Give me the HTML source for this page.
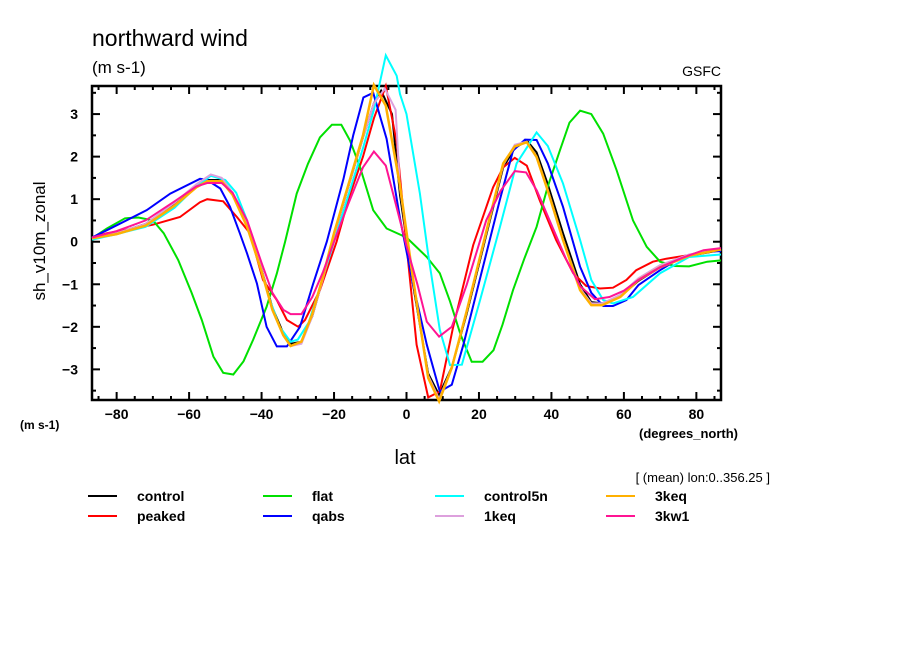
<!DOCTYPE html>
<html><head><meta charset="utf-8"><style>
body{margin:0;background:#fff;}
svg{display:block;font-family:"Liberation Sans",sans-serif;}
</style></head><body>
<svg id="chart" width="904" height="654" viewBox="0 0 904 654">
<text x="92" y="46" font-size="23">northward wind</text>
<text x="92" y="73" font-size="17">(m s-1)</text>
<text x="721" y="76" font-size="14" text-anchor="end">GSFC</text>
<text x="45" y="241" font-size="17" text-anchor="middle" transform="rotate(-90 45 241)">sh_v10m_zonal</text>
<text x="20" y="429" font-size="12" font-weight="bold">(m s-1)</text>
<text x="738" y="438" font-size="13" font-weight="bold" text-anchor="end">(degrees_north)</text>
<text x="405" y="464" font-size="20" text-anchor="middle">lat</text>
<text x="770" y="482" font-size="13" text-anchor="end">[ (mean) lon:0..356.25 ]</text>
<g id="axes"></g>
<g id="series"></g>
<g id="legend"></g>
</svg>
<script>
const xTicks=[-80,-60,-40,-20,0,20,40,60,80];
const yTicks=[-3,-2,-1,0,1,2,3];
const seriesNames=["control","peaked","flat","qabs","control5n","1keq","3keq","3kw1"];
const seriesColors=["#000000","#ff0000","#00e000","#0000ff","#00ffff","#dda0dd","#ffb000","#ff1493"];

const latControl=[-86.8,-80,-72,-64,-58,-55,-51,-48,-44,-40,-37,-34,-32,-29,-26,-23,-20,-16,-12,-9,-7,-4,-1.8,1.8,6,9,12.5,16.6,22,26.7,29.9,33.2,35.9,39,43.2,47.9,51,54,59,64,70,78,86.8];
const valControl=[0.08,0.2,0.42,0.9,1.3,1.45,1.45,1.12,0.35,-0.65,-1.55,-2.15,-2.4,-2.35,-1.75,-0.85,0.15,1.3,2.45,3.25,3.55,3.0,1.1,-1.0,-3.1,-3.6,-2.95,-1.7,0.15,1.75,2.2,2.38,2.1,1.35,0.2,-1.0,-1.42,-1.45,-1.28,-0.92,-0.6,-0.33,-0.2];
const latPeaked=[-86.8,-82.7,-76,-70,-62.5,-57,-55,-50.6,-46.8,-43.2,-39.6,-35.8,-33,-29.9,-28,-23.9,-19.3,-16,-12,-9,-5.7,-2.7,0,2.8,6,9.2,12.8,18.4,23.9,26.7,29.9,33.2,36.8,41.3,46,49.6,53.4,57,60.7,63.4,68,71.7,79,81.7,86.8];
const valPeaked=[0.1,0.2,0.3,0.4,0.58,0.93,1.0,0.95,0.58,0.2,-0.9,-1.37,-1.84,-2.0,-1.84,-1.14,0.0,1.0,2.0,2.9,3.66,2.34,-0.08,-2.42,-3.66,-3.52,-2.03,-0.08,1.28,1.75,1.97,1.79,0.97,0.04,-0.74,-1.04,-1.1,-1.08,-0.9,-0.67,-0.47,-0.4,-0.3,-0.22,-0.2];
const latFlat=[-86.8,-82.7,-77.7,-74,-70,-67,-63,-59.3,-56.5,-53.3,-50.6,-47.8,-45,-42.3,-38.6,-35.8,-33.5,-30.3,-27.2,-23.9,-20.6,-18,-15.6,-12.8,-9.2,-5.5,0,5.6,9.2,12,15,18,21,24,26.5,29.4,32.5,35.9,39,42.3,45,47.9,51,54.3,58,62.5,66.3,70,74,78,83,86.8];
const valFlat=[0.08,0.31,0.55,0.57,0.5,0.2,-0.43,-1.2,-1.84,-2.7,-3.08,-3.12,-2.81,-2.3,-1.53,-0.75,0.0,1.13,1.83,2.45,2.75,2.75,2.38,1.75,0.74,0.31,0.1,-0.36,-0.74,-1.4,-2.2,-2.82,-2.82,-2.55,-1.95,-1.14,-0.4,0.35,1.3,2.14,2.8,3.08,3.0,2.54,1.68,0.5,-0.12,-0.47,-0.57,-0.58,-0.47,-0.44];
const latQabs=[-86.8,-82.7,-71.7,-65.2,-57,-55,-51.4,-48.7,-46,-44,-41.3,-38.6,-35.8,-33,-29.4,-25.8,-22,-17.4,-14.7,-11.9,-9.2,-5.5,-1.8,1.8,5.6,9.2,12.5,15.7,20.3,25.8,29.4,32.7,35.9,39,43.2,47.9,51,54.3,57,60.7,64,70,75.4,81,86.8];
const valQabs=[0.1,0.27,0.74,1.13,1.48,1.45,1.25,0.82,0.2,-0.28,-0.98,-2.0,-2.46,-2.46,-2.0,-1.0,0.0,1.48,2.5,3.39,3.5,2.42,0.55,-1.0,-2.42,-3.52,-3.36,-2.42,-0.86,1.0,2.14,2.4,2.39,1.84,0.82,-0.59,-1.2,-1.51,-1.51,-1.37,-1.02,-0.67,-0.39,-0.24,-0.22];
const latControl5n=[-86.8,-80,-72,-64,-58,-54,-50,-47,-44,-41,-38,-35,-32,-30,-27,-24,-20,-16,-12,-9,-5.7,-2.7,-1.8,0,3.7,6,9.2,12,15.3,20.3,25.8,30.4,35.9,39,43.2,47.9,51,54.3,57,62.5,70,78,86.8];
const valControl5n=[0.05,0.18,0.35,0.8,1.3,1.55,1.45,1.15,0.5,-0.4,-1.3,-2.0,-2.35,-2.3,-1.9,-1.1,0.0,1.1,2.2,3.1,4.38,3.9,3.47,3.0,1.13,-0.3,-2.07,-2.9,-2.89,-1.37,0.35,1.84,2.57,2.25,1.37,0.04,-0.9,-1.37,-1.45,-1.3,-0.74,-0.36,-0.3];
const lat1keq=[-86.8,-80,-72,-64,-58,-54,-51,-48,-44,-40,-37,-34,-32,-29,-26,-23,-20,-16,-12,-9,-6,-3,-1.8,1.8,6,9,12.5,16.6,22,26.7,29.9,33.2,35.9,39,43.2,47.9,51,54,59,64,70,78,86.8];
const val1keq=[0.08,0.2,0.42,0.92,1.35,1.58,1.5,1.15,0.4,-0.65,-1.6,-2.2,-2.45,-2.4,-1.75,-0.85,0.15,1.3,2.45,3.25,3.6,3.1,1.25,-0.9,-3.15,-3.7,-2.95,-1.65,0.2,1.8,2.28,2.35,2.0,1.22,0.06,-1.1,-1.45,-1.45,-1.25,-0.86,-0.55,-0.3,-0.18];
const lat3keq=[-86.8,-80,-72,-64,-58,-55,-51,-48,-44,-40,-37,-34,-32,-29,-26,-23,-20,-16,-12,-9,-5.7,-1.8,1.8,6,9,12.5,16.6,22,26.7,29.9,33.2,35.9,39,43.2,47.9,51,54,59,64,70,78,86.8];
const val3keq=[0.08,0.18,0.38,0.85,1.28,1.42,1.42,1.1,0.35,-0.7,-1.6,-2.2,-2.45,-2.35,-1.7,-0.8,0.2,1.35,2.5,3.68,3.2,1.32,-0.86,-3.2,-3.75,-2.96,-1.64,0.23,1.84,2.24,2.34,1.99,1.2,0.04,-1.14,-1.49,-1.49,-1.3,-0.9,-0.6,-0.33,-0.18];
const lat3kw1=[-86.8,-80,-72,-64,-58,-55,-51,-48,-44,-40,-37,-34,-32,-29,-26,-23,-20,-16,-12,-9,-5.7,-3,0,3,5.6,9,12.5,16.6,22,26,29.9,33,36,40,44,48,52,56,60,64,70,76,82,86.8];
const val3kw1=[0.1,0.25,0.5,0.95,1.3,1.38,1.38,1.15,0.5,-0.5,-1.2,-1.6,-1.7,-1.7,-1.3,-0.7,0.0,0.9,1.75,2.12,1.79,0.9,-0.1,-1.0,-1.88,-2.23,-2.0,-1.02,0.5,1.2,1.66,1.63,1.2,0.4,-0.4,-1.05,-1.35,-1.3,-1.15,-0.9,-0.6,-0.38,-0.2,-0.15];

const seriesLats=[latControl,latPeaked,latFlat,latQabs,latControl5n,lat1keq,lat3keq,lat3kw1];
const seriesVals=[valControl,valPeaked,valFlat,valQabs,valControl5n,val1keq,val3keq,val3kw1];

const X0=92,X1=721,Y0=86,Y1=400;
const xMin=-86.8,xMax=86.8,yMin=-3.72,yMax=3.66;
function xs(v){return X0+(v-xMin)/(xMax-xMin)*(X1-X0);}
function ys(v){return Y1-(v-yMin)/(yMax-yMin)*(Y1-Y0);}
const NS="http://www.w3.org/2000/svg";
function mk(tag,attrs,parent){const e=document.createElementNS(NS,tag);for(const k in attrs)e.setAttribute(k,attrs[k]);parent.appendChild(e);return e;}

const axes=document.getElementById('axes');
const frame=mk('rect',{x:X0,y:Y0,width:X1-X0,height:Y1-Y0,fill:'none',stroke:'#000','stroke-width':2.5},axes);


for(let d=-85;d<=85;d+=5){
  const x=xs(d);const L=(d%20===0)?8:4;
  const t1=mk('line',{x1:x,y1:Y1,x2:x,y2:Y1-L,stroke:'#000','stroke-width':2},axes);
  
  
  const t2=mk('line',{x1:x,y1:Y0,x2:x,y2:Y0+L,stroke:'#000','stroke-width':2},axes);
  
  
}
xTicks.forEach(v=>{
  const t=mk('text',{x:xs(v),y:419,'font-size':14,'font-weight':'bold','text-anchor':'middle'},axes);
  t.textContent=(v<0?'\u2212'+(-v):String(v));
  
  
});
for(let k=-7;k<=7;k++){
  const v=k/2;if(v<yMin||v>yMax)continue;
  const y=ys(v);const L=(k%2===0)?8:4;
  const t1=mk('line',{x1:X0,y1:y,x2:X0+L,y2:y,stroke:'#000','stroke-width':2},axes);
  
  
  const t2=mk('line',{x1:X1,y1:y,x2:X1-L,y2:y,stroke:'#000','stroke-width':2},axes);
  
  
}
yTicks.forEach(v=>{
  const t=mk('text',{x:78,y:ys(v)+5,'font-size':14,'font-weight':'bold','text-anchor':'end'},axes);
  t.textContent=(v<0?'\u2212'+(-v):String(v));
  
  
});

const sg=document.getElementById('series');
const order=[0,1,2,3,4,5,6,7];
order.forEach(i=>{
  const pts=seriesLats[i].map((la,j)=>xs(la).toFixed(1)+','+ys(seriesVals[i][j]).toFixed(1)).join(' ');
  const p=mk('polyline',{points:pts,fill:'none',stroke:seriesColors[i],'stroke-width':(i===6?2.5:2),'stroke-linejoin':'miter'},sg);
  
  
});

const lg=document.getElementById('legend');
const colX=[88,263,435,606];
const rowY=[496,516];
const layout=[[0,0],[0,1],[1,0],[1,1],[2,0],[2,1],[3,0],[3,1]];
const legendOrder=[0,1,2,3,4,5,6,7];
legendOrder.forEach((i,k)=>{
  const c=layout[k][0],r=layout[k][1];
  const g=mk('g',{},lg);
  
  
  mk('line',{x1:colX[c],y1:rowY[r],x2:colX[c]+29,y2:rowY[r],stroke:seriesColors[i],'stroke-width':2},g);
  const t=mk('text',{x:colX[c]+49,y:rowY[r]+5,'font-size':14,'font-weight':'bold'},g);
  t.textContent=seriesNames[i];
});
</script>
</body></html>
